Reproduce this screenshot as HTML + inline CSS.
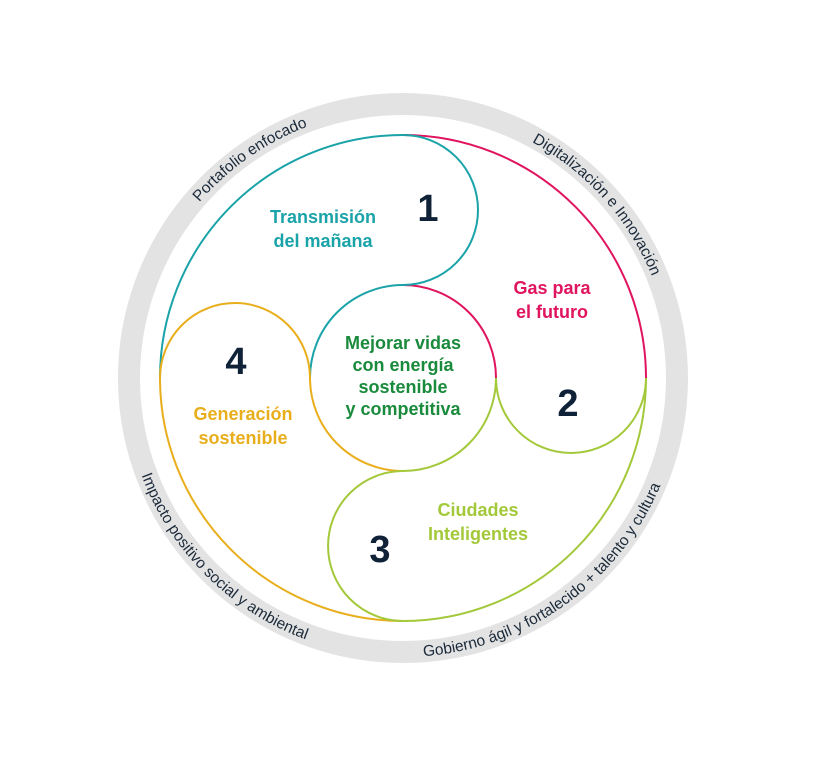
<!DOCTYPE html>
<html><head><meta charset="utf-8"><style>
html,body{margin:0;padding:0;background:#fff;}
svg{display:block;}
.r{font-family:"Liberation Sans",sans-serif;font-size:15.5px;fill:#1b2a3a;}
.b{font-family:"Liberation Sans",sans-serif;font-weight:bold;font-size:18px;text-anchor:middle;}
.n{font-family:"Liberation Sans",sans-serif;font-weight:bold;font-size:38px;fill:#0f2238;text-anchor:middle;}
</style></head><body>
<svg width="818" height="760" viewBox="0 0 818 760" xmlns="http://www.w3.org/2000/svg">
<circle cx="403" cy="378" r="274" fill="none" stroke="#e3e3e3" stroke-width="22"/>
<defs>
<path id="p1" d="M135,401.4 A269 269 0 0 1 516.7,134.2"/>
<path id="p2" d="M342.5,115.9 A269 269 0 0 1 660.2,456.7"/>
<path id="p3" d="M294,634.8 A279 279 0 0 0 679.9,344"/>
<path id="p4" d="M133.5,305.8 A279 279 0 0 0 475.2,647.5"/>
</defs>
<text class="r"><textPath href="#p1" startOffset="50%" text-anchor="middle">Portafolio enfocado</textPath></text>
<text class="r"><textPath href="#p2" startOffset="51%" text-anchor="middle">Digitalización e Innovación</textPath></text>
<text class="r"><textPath href="#p3" startOffset="49%" text-anchor="middle">Gobierno ágil y fortalecido + talento y cultura</textPath></text>
<text class="r"><textPath href="#p4" startOffset="50%" text-anchor="middle">Impacto positivo social y ambiental</textPath></text>
<g fill="none" stroke-width="2">
<path d="M160,378 A243 243 0 0 1 403,135" stroke="#1aa3a8"/>
<path d="M403,135 A243 243 0 0 1 646,378" stroke="#e0145f"/>
<path d="M646,378 A243 243 0 0 1 403,621" stroke="#a3c93a"/>
<path d="M403,621 A243 243 0 0 1 160,378" stroke="#e8ae1c"/>
<path d="M310,378 A93 93 0 0 1 403,285" stroke="#1aa3a8"/>
<path d="M403,285 A93 93 0 0 1 496,378" stroke="#e0145f"/>
<path d="M496,378 A93 93 0 0 1 403,471" stroke="#a3c93a"/>
<path d="M403,471 A93 93 0 0 1 310,378" stroke="#e8ae1c"/>
<path d="M403,285 A75 75 0 0 0 403,135" stroke="#1aa3a8"/>
<path d="M496,378 A75 75 0 0 0 646,378" stroke="#a3c93a"/>
<path d="M403,471 A75 75 0 0 0 403,621" stroke="#a3c93a"/>
<path d="M310,378 A75 75 0 0 0 160,378" stroke="#e8ae1c"/>
</g>
<text class="b" fill="#1aa3a8"><tspan x="323" y="223">Transmisión</tspan><tspan x="323" y="247">del mañana</tspan></text>
<text class="b" fill="#e0145f"><tspan x="552" y="294">Gas para</tspan><tspan x="552" y="318">el futuro</tspan></text>
<text class="b" fill="#a3c93a"><tspan x="478" y="516">Ciudades</tspan><tspan x="478" y="540">Inteligentes</tspan></text>
<text class="b" fill="#e8ae1c"><tspan x="243" y="420">Generación</tspan><tspan x="243" y="444">sostenible</tspan></text>
<text class="b" fill="#1a8a3c"><tspan x="403" y="349">Mejorar vidas</tspan><tspan x="403" y="371">con energía</tspan><tspan x="403" y="393">sostenible</tspan><tspan x="403" y="415">y competitiva</tspan></text>
<text class="n" x="428" y="221">1</text>
<text class="n" x="568" y="416">2</text>
<text class="n" x="380" y="562">3</text>
<text class="n" x="236" y="374">4</text>
</svg>
</body></html>
